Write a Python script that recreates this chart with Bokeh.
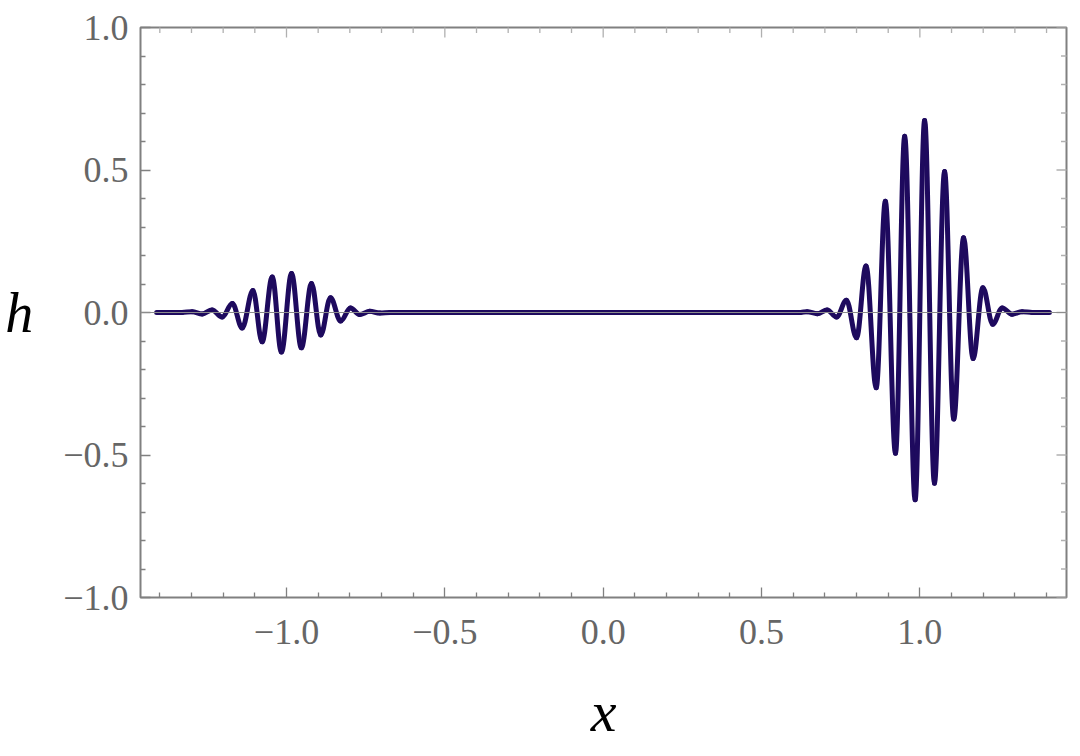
import numpy as np
from bokeh.plotting import figure
from bokeh.models import Range1d, FixedTicker, Span, ColumnDataSource
from bokeh.embed import file_html
from bokeh.resources import INLINE

# ---- data: extrema of h(x) ----
left_x = [-1.41, -1.33, -1.298, -1.266, -1.235, -1.203, -1.171, -1.140, -1.106, -1.077,
          -1.045, -1.016, -0.984, -0.953, -0.921, -0.892, -0.861, -0.829, -0.798,
          -0.769, -0.737, -0.705, -0.673]
left_h = [0.0, 0.0, 0.003, -0.005, 0.009, -0.016, 0.032, -0.054, 0.077, -0.103,
          0.125, -0.139, 0.137, -0.124, 0.102, -0.079, 0.052, -0.030, 0.016,
          -0.007, 0.004, -0.002, 0.0]

right_x = [0.623, 0.644, 0.676, 0.707, 0.737, 0.768, 0.800, 0.830, 0.862, 0.891,
           0.923, 0.952, 0.985, 1.015, 1.046, 1.078, 1.107, 1.138, 1.168, 1.199,
           1.230, 1.260, 1.291, 1.323, 1.355, 1.409]
right_h = [0.0, 0.003, -0.004, 0.009, -0.016, 0.043, -0.089, 0.163, -0.264, 0.390,
           -0.494, 0.618, -0.657, 0.674, -0.599, 0.495, -0.374, 0.262, -0.161, 0.087,
           -0.041, 0.016, -0.006, 0.003, 0.0, 0.0]

x_ticks = [-1.0, -0.5, 0.0, 0.5, 1.0]
x_tick_labels = ["\u22121.0", "\u22120.5", "0.0", "0.5", "1.0"]
x_minor = [-1.4, -1.3, -1.2, -1.1, -0.9, -0.8, -0.7, -0.6, -0.4, -0.3, -0.2, -0.1,
           0.1, 0.2, 0.3, 0.4, 0.6, 0.7, 0.8, 0.9, 1.1, 1.2, 1.3, 1.4]
y_ticks = [-1.0, -0.5, 0.0, 0.5, 1.0]
y_tick_labels = ["\u22121.0", "\u22120.5", "0.0", "0.5", "1.0"]
y_minor = [-0.9, -0.8, -0.7, -0.6, -0.4, -0.3, -0.2, -0.1,
           0.1, 0.2, 0.3, 0.4, 0.6, 0.7, 0.8, 0.9]

X_MIN, X_MAX = -1.461, 1.463
Y_MIN, Y_MAX = -1.0, 1.0

LINE = "#1e0a5e"
FRAME = "#808080"
MIRROR = "#b0b0b0"
LABEL = "#666666"
FONT = "Liberation Serif"

xs = np.array(left_x + right_x)
hs = np.array(left_h + right_h)
x0, x1 = xs[:-1], xs[1:]
h0, h1 = hs[:-1], hs[1:]
k = 0.3634
dx = x1 - x0
src = ColumnDataSource(dict(x0=x0, y0=h0, x1=x1, y1=h1,
                            cx0=x0 + k * dx, cy0=h0, cx1=x1 - k * dx, cy1=h1))

p = figure(frame_width=926, frame_height=570,
           x_range=Range1d(X_MIN, X_MAX), y_range=Range1d(Y_MIN, Y_MAX),
           output_backend="svg", toolbar_location=None,
           min_border_left=140, min_border_top=27, min_border_right=6,
           min_border_bottom=140,
           background_fill_color="white", border_fill_color="white")
p.grid.visible = False
p.outline_line_color = FRAME
p.outline_line_width = 2

p.bezier(x0="x0", y0="y0", x1="x1", y1="y1", cx0="cx0", cy0="cy0",
         cx1="cx1", cy1="cy1", source=src, line_color=LINE, line_width=5,
         line_cap="round")

p.add_layout(Span(location=0, dimension="width", line_color="#8c8c8c",
                  line_width=1))

# mirrored (unlabelled) frame ticks on the top and right edges:
# dash markers centred on the frame edge, the outer half is clipped by the frame
p.scatter(x=x_ticks, y=[Y_MAX] * len(x_ticks), marker="dash", size=20,
          angle=np.pi / 2, line_color=MIRROR, line_width=1.3)
p.scatter(x=x_minor, y=[Y_MAX] * len(x_minor), marker="dash", size=11,
          angle=np.pi / 2, line_color=MIRROR, line_width=1.3)
p.scatter(x=[X_MAX] * len(y_ticks), y=y_ticks, marker="dash", size=20,
          line_color=MIRROR, line_width=1.3)
p.scatter(x=[X_MAX] * len(y_minor), y=y_minor, marker="dash", size=11,
          line_color=MIRROR, line_width=1.3)


def style_axis(ax, ticks, minor, labels):
    ax.ticker = FixedTicker(ticks=ticks, minor_ticks=minor)
    ax.axis_line_color = None
    ax.major_tick_in = 10
    ax.major_tick_out = 0
    ax.minor_tick_in = 5
    ax.minor_tick_out = 0
    ax.major_tick_line_color = FRAME
    ax.minor_tick_line_color = FRAME
    ax.major_tick_line_width = 1.3
    ax.minor_tick_line_width = 1.3
    ax.major_label_overrides = dict(zip(ticks, labels))
    ax.major_label_text_font = FONT
    ax.major_label_text_font_size = "36px"
    ax.major_label_text_color = LABEL


xa = p.xaxis[0]
ya = p.yaxis[0]
style_axis(xa, x_ticks, x_minor, x_tick_labels)
style_axis(ya, y_ticks, y_minor, y_tick_labels)
xa.major_label_standoff = 22
ya.major_label_standoff = 12

xa.axis_label = "x"
xa.axis_label_text_font = FONT
xa.axis_label_text_font_style = "italic"
xa.axis_label_text_font_size = "58px"
xa.axis_label_text_color = "black"
xa.axis_label_standoff = 32

ya.axis_label = "h"
ya.axis_label_text_font = FONT
ya.axis_label_text_font_style = "italic"
ya.axis_label_text_font_size = "56px"
ya.axis_label_text_color = "black"
ya.axis_label_standoff = 27
try:
    ya.axis_label_orientation = "horizontal"
except Exception:
    pass

open("out.html", "w").write(file_html(p, INLINE))
